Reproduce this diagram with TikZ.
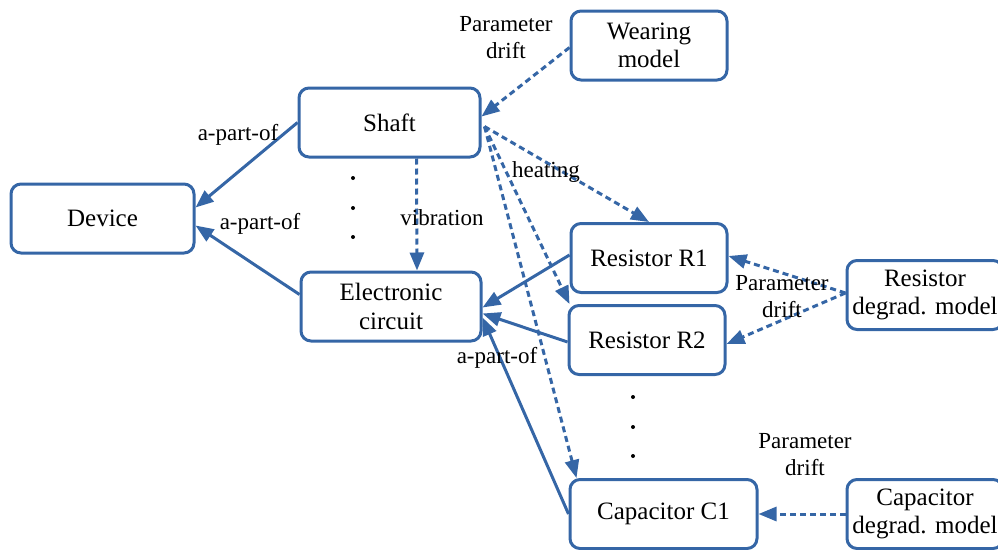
\documentclass[tikz,border=0pt]{standalone}
\usepackage{fontspec}
\setmainfont{Liberation Serif}
\usetikzlibrary{arrows.meta}
\definecolor{lblue}{RGB}{53,102,166}
\tikzset{
  box/.style={draw=lblue, line width=3pt, rounded corners=10pt, minimum height=69pt, align=center,
    font=\fontsize{25}{28.5}\selectfont, inner sep=0pt},
  lbl/.style={font=\fontsize{23}{27}\selectfont, align=center, inner sep=0pt},
  conn/.style={draw=lblue, line width=3pt, -{Triangle[length=18pt,width=14pt]}},
  dconn/.style={conn, dash pattern=on 6pt off 4pt},
}
\begin{document}
\begin{tikzpicture}[x=1pt,y=-1pt]
\useasboundingbox (0,0) rectangle (998,549);
% nodes
\node[box, minimum width=183pt] (dev) at (102.5,218.5) {Device};
\node[box, minimum width=181pt] (shaft) at (389.5,122.5) {Shaft};
\node[box, minimum width=180pt] (elec) at (391,306.5) {Electronic\\circuit};
\node[box, minimum width=156pt] (wear) at (649,45.5) {Wearing\\model};
\node[box, minimum width=156pt] (r1) at (649,258) {Resistor R1};
\node[box, minimum width=156pt] (r2) at (647,340) {Resistor R2};
\node[box, minimum width=187pt] (c1) at (663.5,514) {Capacitor C1};
\node[box, minimum width=156pt] (rd) at (925,295) {Resistor\\degrad. model};
\node[box, minimum width=156pt] (cd) at (925,514) {Capacitor\\degrad. model};
% dots
\foreach \y in {178,208,237} \fill (353,\y) circle (2pt);
\foreach \y in {397,427,456} \fill (633,\y) circle (2pt);
% solid connectors
\draw[conn] (shaft.west) -- ([yshift=11pt]dev.east);
\draw[conn] ([yshift=12pt]elec.west) -- ([yshift=-7pt]dev.east);
\draw[conn] ([yshift=3pt]r1.west) -- ([yshift=-1pt]elec.east);
\draw[conn] ([yshift=-2pt]r2.west) -- ([yshift=-7pt]elec.east);
\draw[conn] (c1.west) -- ([yshift=-11pt]elec.east);
% dashed connectors
\draw[dconn] ([xshift=27pt]shaft.south) -- ([xshift=26pt]elec.north);
\draw[dconn] ([yshift=-2pt]wear.west) -- ([yshift=6pt]shaft.east);
\coordinate (sh) at ([xshift=3pt,yshift=-4pt]shaft.east);
\draw[dconn] (sh) -- (r1.north);
\draw[dconn] (sh) -- ([xshift=2pt]r2.north west);
\draw[dconn] (sh) -- ([xshift=8pt]c1.north west);
\draw[dconn] ([yshift=2pt]rd.west) -- ([yshift=2pt]r1.east);
\draw[dconn] ([yshift=2pt]rd.west) -- ([yshift=-4pt]r2.east);
\draw[dconn] (cd.west) -- (c1.east);
% labels
\node[lbl] (l1) at (238,135) {a-part-of};
\node[lbl] (l2) at (260,224) {a-part-of};
\node[lbl] (l3) at (497,358) {a-part-of};
\node[lbl] (l4) at (442,218) {vibration};
\node[lbl] (l5) at (546,172) {heating};
\node[lbl] (l6) at (506,38) {Parameter\\drift};
\node[lbl] (l7) at (782,297) {Parameter\\drift};
\node[lbl] (l8) at (805,455) {Parameter\\drift};
\end{tikzpicture}
\end{document}
